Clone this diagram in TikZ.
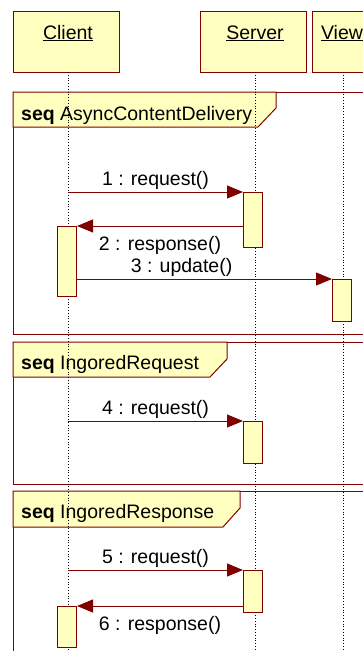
\documentclass[tikz,border=0pt]{standalone}
\usepackage{fontspec}
\setmainfont{Liberation Sans}
\usetikzlibrary{arrows.meta,positioning}
\definecolor{umlred}{RGB}{128,0,0}
\definecolor{umlfill}{RGB}{255,255,192}

\begin{document}
\begin{tikzpicture}[x=1pt,y=-1pt,>={Triangle[length=16pt,width=13pt]},
font=\fontsize{19.5}{22}\selectfont,
actor/.style={draw=umlred,fill=umlfill,line width=1pt,minimum width=106pt,minimum height=61pt,anchor=north west,inner sep=0pt},
act/.style={draw=umlred,fill=umlfill,line width=1pt,minimum width=19pt,anchor=north west,inner sep=0pt},
umlframe/.style={draw=umlred,line width=1pt},
tag/.style={draw=umlred,fill=umlfill,line width=1pt},
life/.style={dotted,line width=0.8pt},
msg/.style={->,draw=umlred,fill=umlred,line width=1pt},
msgabove/.style={anchor=base,yshift=7pt},
msgbelow/.style={anchor=base,yshift=-24pt}]
\useasboundingbox (0,0) rectangle (363,651);
\clip (0,0) rectangle (363,651);

% combined fragments
\draw[umlframe] (13,92) rectangle (400,334);
\draw[tag] (13,92) -- (276,92) -- (276,108) -- (258,127) -- (13,127) -- cycle;
\node[anchor=base west,inner sep=0pt] (seq1) at (21,120) {\textbf{seq} AsyncContentDelivery};
\draw[umlframe] (13,342) rectangle (400,484);
\draw[tag] (13,342) -- (227,342) -- (227,359) -- (210,377) -- (13,377) -- cycle;
\node[anchor=base west,inner sep=0pt] (seq2) at (21,369) {\textbf{seq} IngoredRequest};
\draw[umlframe] (13,491) rectangle (400,700);
\draw[tag] (13,491) -- (240,491) -- (240,508) -- (223,527) -- (13,527) -- cycle;
\node[anchor=base west,inner sep=0pt] (seq3) at (21,518) {\textbf{seq} IngoredResponse};

% lifelines
\node[actor] (client) at (13,11) {};
\node[actor] (server) at (200,11) {};
\node[actor,minimum width=64pt] (view) at (312,11) {};
\node[anchor=base] (clientname) at (68,39) {\underline{Client}};
\node[anchor=base] (servername) at (255,39) {\underline{Server}};
\node[anchor=base] (viewname) at (342,39) {\underline{View}};
\coordinate (clientTop) at (68,72);
\coordinate (clientEnd) at (68,651);
\coordinate (serverTop) at (255,72);
\coordinate (serverEnd) at (255,651);
\coordinate (viewTop) at (343,72);
\coordinate (viewEnd) at (343,651);
\draw[life] (clientTop) -- (clientEnd);
\draw[life] (serverTop) -- (serverEnd);
\draw[life] (viewTop) -- (viewEnd);

% activations
\node[act,minimum height=55pt] (sa1) at (243,192) {};
\node[act,minimum height=70pt] (ca1) at (57,226) {};
\node[act,minimum height=42pt] (va1) at (332,279) {};
\node[act,minimum height=42pt] (sa2) at (243,421) {};
\node[act,minimum height=42pt] (sa3) at (243,570) {};
\node[act,minimum height=41pt] (ca3) at (57,606) {};

% messages
\coordinate (c1) at (68,192);
\coordinate (c4) at (68,421);
\coordinate (c5) at (68,570);
\draw[msg] (c1) -- node[msgabove]{1 : request()} (sa1.north west);
\draw[msg] (sa1.west |- ca1.north) -- node[msgbelow]{2 : response()} (ca1.north east);
\draw[msg] (ca1.east |- va1.north) -- node[msgabove,pos=.41]{3 : update()} (va1.north west);
\draw[msg] (c4) -- node[msgabove]{4 : request()} (sa2.north west);
\draw[msg] (c5) -- node[msgabove]{5 : request()} (sa3.north west);
\draw[msg] (sa3.west |- ca3.north) -- node[msgbelow]{6 : response()} (ca3.north east);
\end{tikzpicture}
\end{document}
